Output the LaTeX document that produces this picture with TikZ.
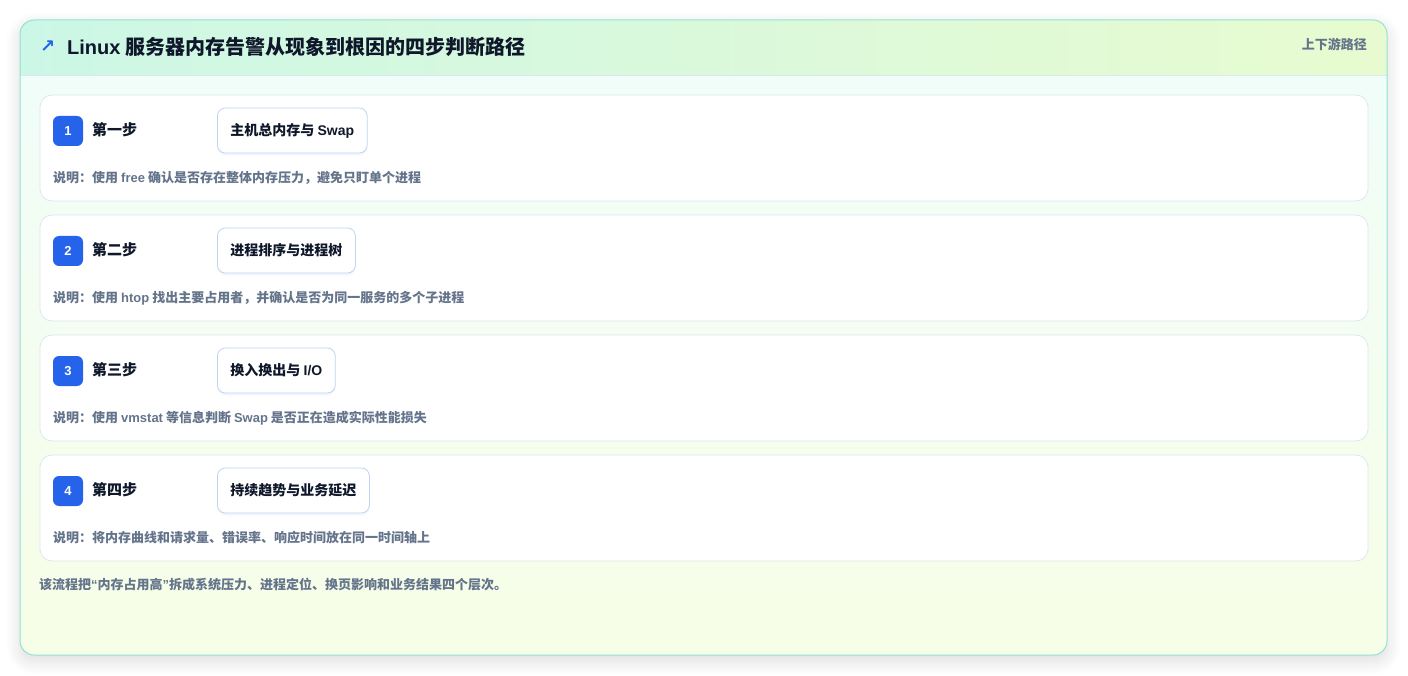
\documentclass[tikz,border=0pt]{standalone}
\usepackage{fontspec}
\setmainfont{Noto Sans CJK SC}
\newfontfamily\symfont{DejaVu Sans}
\newfontfamily\latfont{Liberation Sans}
\newcommand{\lat}[1]{{\latfont #1}}
\usepackage{xcolor}
\usepackage{tikz}
\usetikzlibrary{shadows, shadows.blur}
\definecolor{cardline}{HTML}{8EE3D4}
\definecolor{headleft}{HTML}{CCF7E6}
\definecolor{headright}{HTML}{E8FBD0}
\definecolor{bodytop}{HTML}{F0FDFA}
\definecolor{bodybottom}{HTML}{F7FEE7}
\definecolor{stepline}{HTML}{DCE8F0}
\definecolor{tagline}{HTML}{BFD3F2}
\definecolor{badgeblue}{HTML}{2563EB}
\definecolor{ink}{HTML}{0F172A}
\definecolor{muted}{HTML}{64748B}
\tikzstyle{stepcard} = [rectangle, draw=stepline, fill=white, rounded corners=12pt, minimum width=1328pt, minimum height=106pt, line width=0.8pt]
\tikzstyle{badge} = [rectangle, fill=badgeblue, text=white, rounded corners=6pt, minimum width=30pt, minimum height=30pt, inner sep=0pt, font=\latfont\bfseries\fontsize{13}{13}\selectfont]
\tikzstyle{steptitle} = [anchor=west, text=ink, inner sep=0pt, font=\bfseries\fontsize{15}{15}\selectfont]
\tikzstyle{tagbox} = [rectangle, anchor=west, draw=tagline, fill=white, rounded corners=8pt, minimum height=45pt, inner xsep=13pt, text=ink, line width=0.8pt, font=\bfseries\fontsize{14}{14}\selectfont, drop shadow={shadow xshift=0pt, shadow yshift=-2.5pt, opacity=0.05, fill=badgeblue}]
\tikzstyle{desc} = [anchor=west, text=muted, inner sep=0pt, font=\bfseries\fontsize{13}{13}\selectfont]

\begin{document}
\begin{tikzpicture}[x=1pt, y=-1pt]
        \useasboundingbox (0,0) rectangle (1408,676);
        % outer card
        \fill[white, rounded corners=14pt, blur shadow={shadow xshift=0pt, shadow yshift=-6pt, shadow blur radius=14pt, shadow blur steps=14, shadow opacity=14}] (20,20) rectangle (1387,655);
        \shade[top color=bodytop, bottom color=bodybottom, rounded corners=14pt] (20,20) rectangle (1387,655);
        \begin{scope}
            \clip[rounded corners=14pt] (20,20) rectangle (1387,655);
            \shade[left color=headleft, right color=headright] (20,20) rectangle (1387,75);
            \draw[stepline, line width=0.8pt] (20,75) -- (1387,75);
        \end{scope}
        \draw[cardline, line width=1pt, rounded corners=14pt] (20,20) rectangle (1387,655);

        \node[anchor=west, text=badgeblue, inner sep=0pt, font=\symfont\bfseries\fontsize{18}{18}\selectfont] (arrow) at (40,47) {↗};
        \node[anchor=west, text=ink, inner sep=0pt, font=\bfseries\fontsize{20}{20}\selectfont] (title) at (67,47) {\lat{Linux} 服务器内存告警从现象到根因的四步判断路径};
        \node[anchor=east, text=muted, inner sep=0pt, font=\bfseries\fontsize{13}{13}\selectfont] (side) at (1367,44) {上下游路径};

        % step cards
        \node[stepcard] (card1) at (704,148) {};
        \node[stepcard] (card2) at (704,268) {};
        \node[stepcard] (card3) at (704,388) {};
        \node[stepcard] (card4) at (704,508) {};

        \node[badge] (num1) at (68,131) {1};
        \node[steptitle] (step1) at (92,130) {第一步};
        \node[tagbox] (tag1) at (217,130.5) {主机总内存与 \lat{Swap}};
        \node[desc] (desc1) at (53,178) {说明：使用 \lat{free} 确认是否存在整体内存压力，避免只盯单个进程};

        \node[badge] (num2) at (68,251) {2};
        \node[steptitle] (step2) at (92,250) {第二步};
        \node[tagbox] (tag2) at (217,250.5) {进程排序与进程树};
        \node[desc] (desc2) at (53,298) {说明：使用 \lat{htop} 找出主要占用者，并确认是否为同一服务的多个子进程};

        \node[badge] (num3) at (68,371) {3};
        \node[steptitle] (step3) at (92,370) {第三步};
        \node[tagbox] (tag3) at (217,370.5) {换入换出与 \lat{I/O}};
        \node[desc] (desc3) at (53,418) {说明：使用 \lat{vmstat} 等信息判断 \lat{Swap} 是否正在造成实际性能损失};

        \node[badge] (num4) at (68,491) {4};
        \node[steptitle] (step4) at (92,490) {第四步};
        \node[tagbox] (tag4) at (217,490.5) {持续趋势与业务延迟};
        \node[desc] (desc4) at (53,538) {说明：将内存曲线和请求量、错误率、响应时间放在同一时间轴上};

        \node[desc] (note) at (39,585) {该流程把\lat{“}内存占用高\lat{”}拆成系统压力、进程定位、换页影响和业务结果四个层次。};
    \end{tikzpicture}
\end{document}
